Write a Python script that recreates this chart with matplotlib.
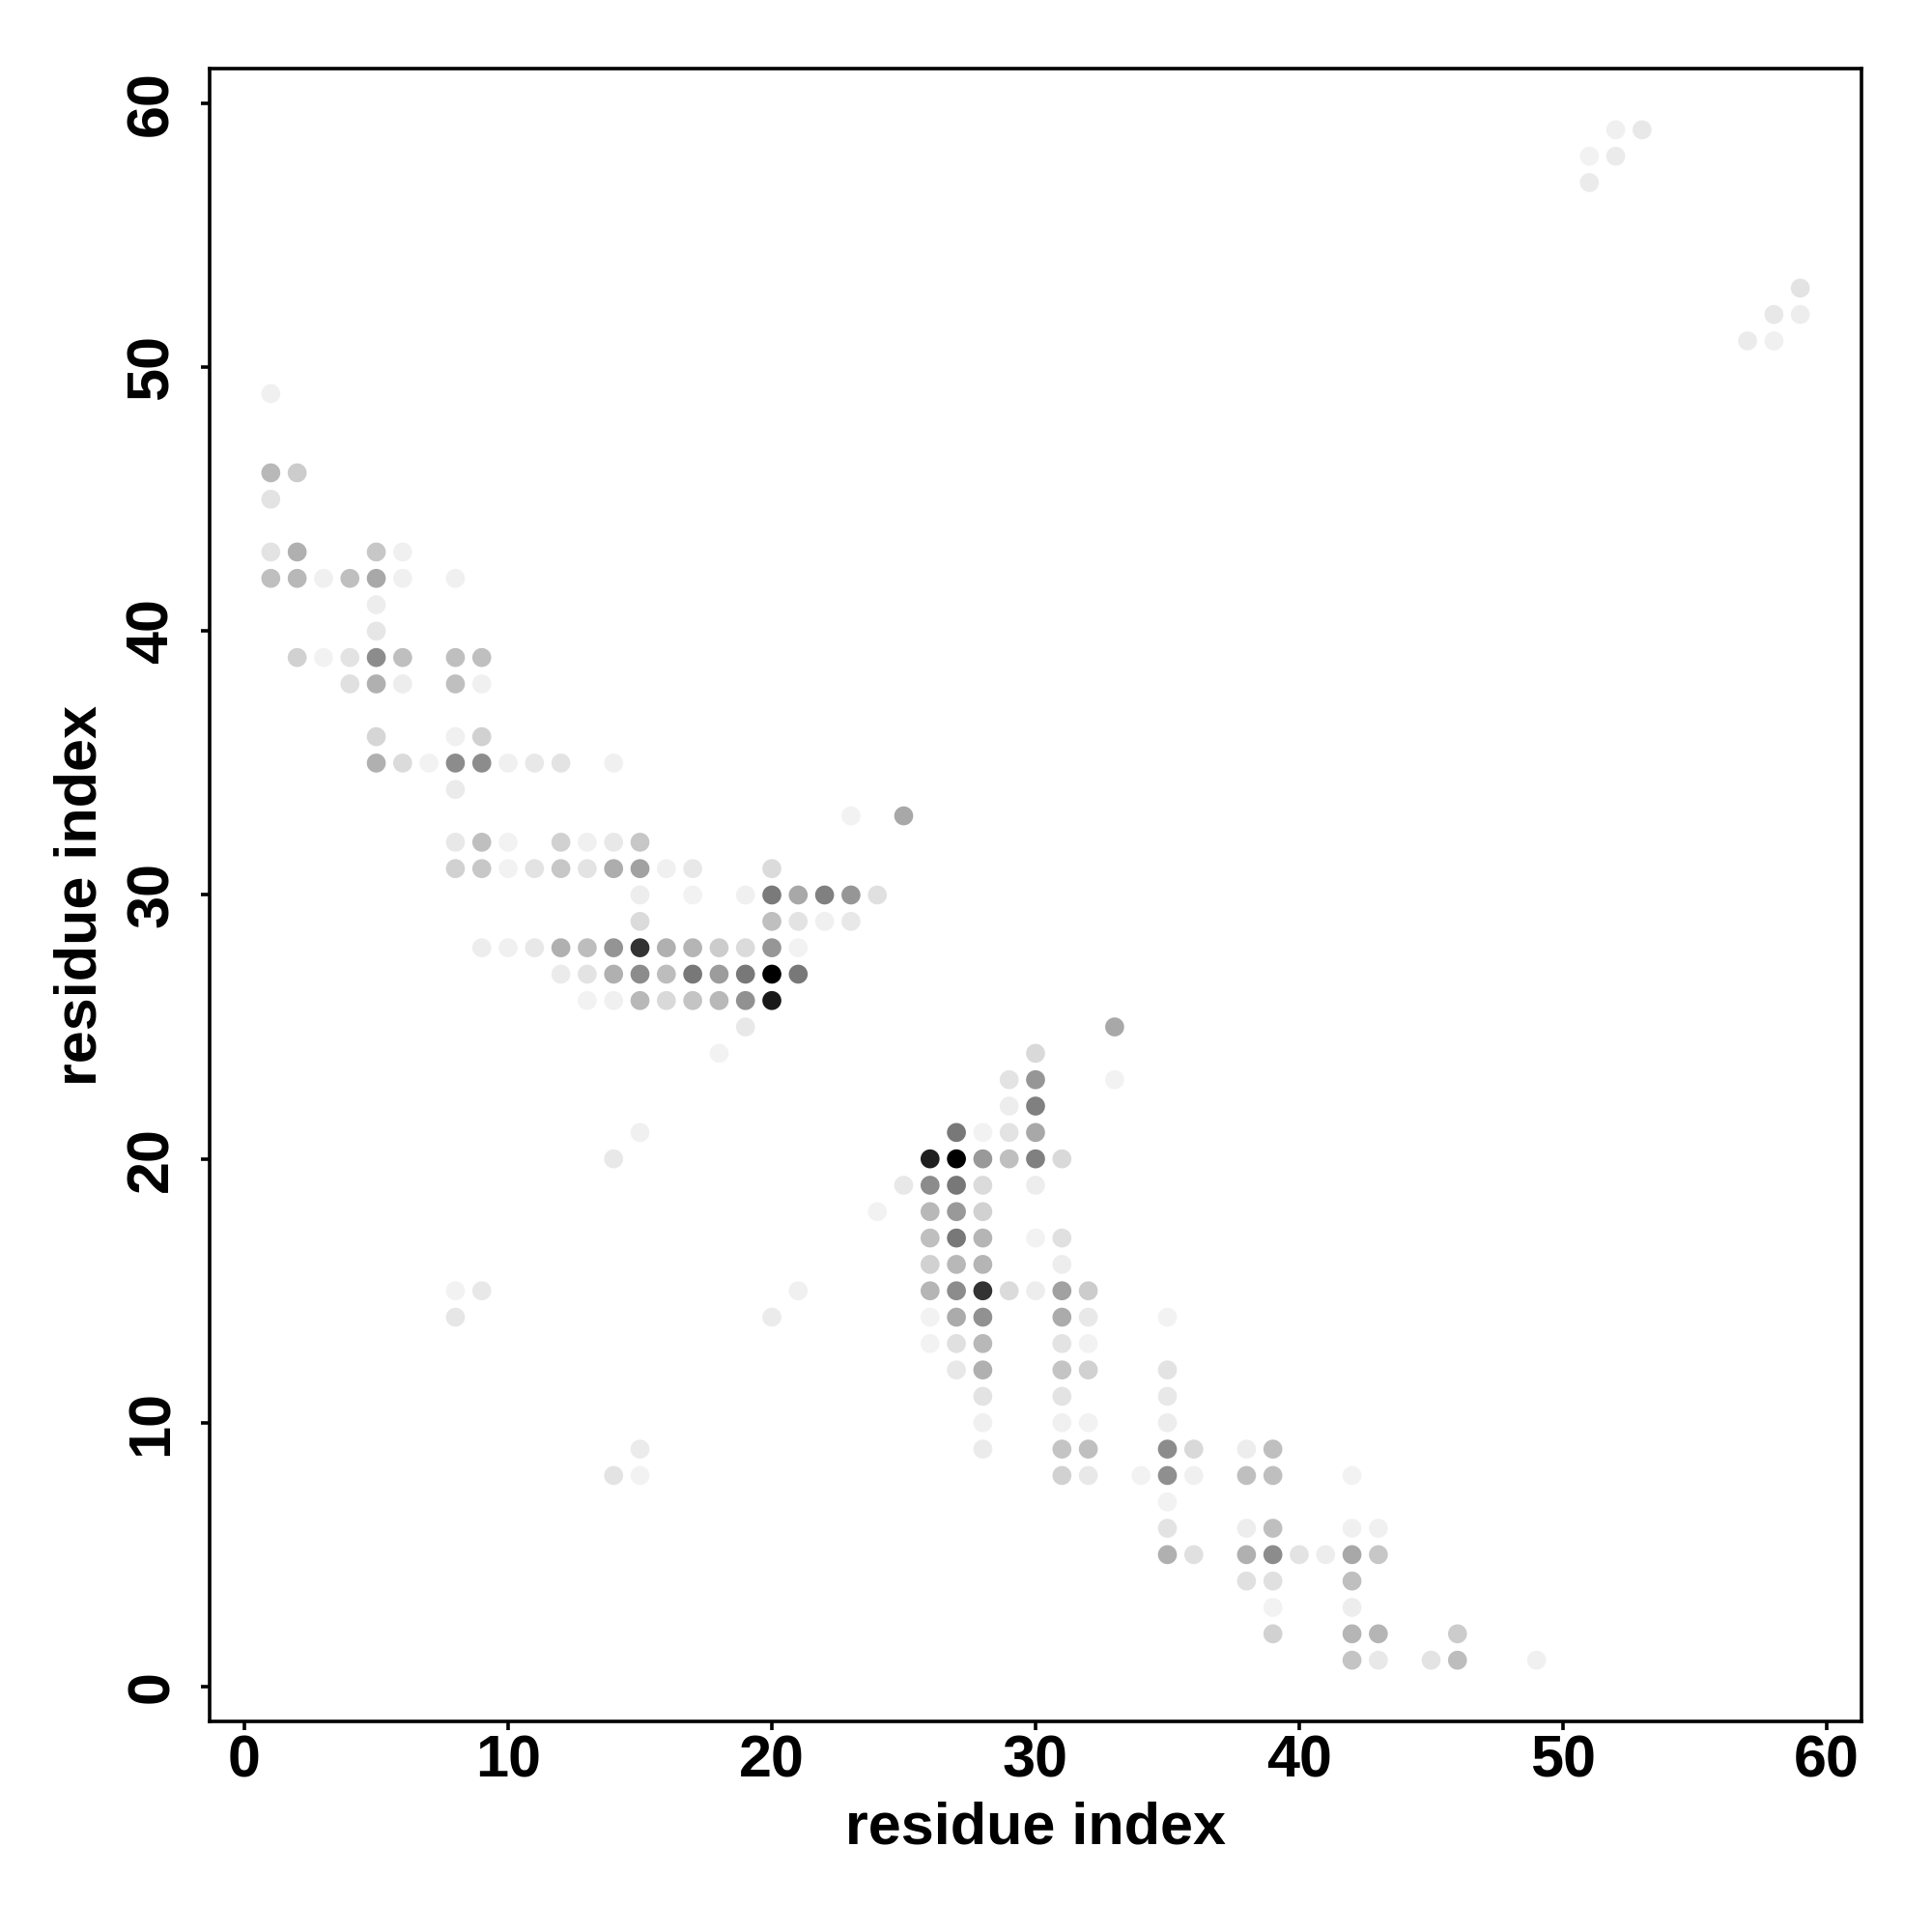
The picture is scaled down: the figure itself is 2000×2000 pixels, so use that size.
import matplotlib
matplotlib.use("Agg")
import matplotlib.pyplot as plt
import numpy as np

# contact map data: (residue i, residue j, contact frequency)
res_x = [52, 53, 51, 52, 51, 59, 58, 59, 57, 58,
         1, 1, 2, 1,
         1, 2, 5, 6,
         1, 2, 3, 4, 5, 6, 8,
         5, 5,
         2, 3, 4, 5, 6, 8, 9,
         4, 5, 6, 8, 9,
         5, 8, 9,
         5, 6, 7, 8, 9, 10, 11, 12, 14,
         8,
         23, 25,
         8, 9, 10, 12, 13, 14, 15,
         8, 9, 10, 11, 12, 13, 14, 15, 16, 17, 20,
         15, 17, 19, 20, 21, 22, 23, 24,
         15, 20, 21, 22, 23,
         9, 10, 11, 12, 13, 14, 15, 16, 17, 18, 19, 20, 21,
         12, 13, 14, 15, 16, 17, 18, 19, 20, 21,
         13, 14, 15, 16, 17, 18, 19, 20,
         19, 33,
         18, 30,
         29, 30, 33,
         29, 30,
         15, 27, 28, 29, 30,
         14, 26, 27, 28, 29, 30, 31,
         25, 26, 27, 28, 30,
         24, 26, 27, 28,
         26, 27, 28, 30, 31,
         26, 27, 28, 31,
         8, 9, 21, 26, 27, 28, 29, 30, 31, 32,
         8, 20, 26, 27, 28, 31, 32, 35,
         26, 27, 28, 31, 32,
         27, 28, 31, 32, 35,
         28, 31, 35,
         28, 31, 32, 35,
         15, 28, 31, 32, 35, 36, 38, 39,
         14, 15, 31, 32, 34, 35, 36, 38, 39, 42,
         35,
         35, 38, 39, 42, 43,
         35, 36, 38, 39, 40, 41, 42, 43,
         38, 39, 42,
         39, 42,
         39, 42, 43, 46,
         42, 43, 45, 46, 49]

res_y = [59, 59, 58, 58, 57, 53, 52, 52, 51, 51,
         49, 46, 46, 45,
         43, 43, 43, 43,
         42, 42, 42, 42, 42, 42, 42,
         41, 40,
         39, 39, 39, 39, 39, 39, 39,
         38, 38, 38, 38, 38,
         36, 36, 36,
         35, 35, 35, 35, 35, 35, 35, 35, 35,
         34,
         33, 33,
         32, 32, 32, 32, 32, 32, 32,
         31, 31, 31, 31, 31, 31, 31, 31, 31, 31, 31,
         30, 30, 30, 30, 30, 30, 30, 30,
         29, 29, 29, 29, 29,
         28, 28, 28, 28, 28, 28, 28, 28, 28, 28, 28, 28, 28,
         27, 27, 27, 27, 27, 27, 27, 27, 27, 27,
         26, 26, 26, 26, 26, 26, 26, 26,
         25, 25,
         24, 24,
         23, 23, 23,
         22, 22,
         21, 21, 21, 21, 21,
         20, 20, 20, 20, 20, 20, 20,
         19, 19, 19, 19, 19,
         18, 18, 18, 18,
         17, 17, 17, 17, 17,
         16, 16, 16, 16,
         15, 15, 15, 15, 15, 15, 15, 15, 15, 15,
         14, 14, 14, 14, 14, 14, 14, 14,
         13, 13, 13, 13, 13,
         12, 12, 12, 12, 12,
         11, 11, 11,
         10, 10, 10, 10,
         9, 9, 9, 9, 9, 9, 9, 9,
         8, 8, 8, 8, 8, 8, 8, 8, 8, 8,
         7,
         6, 6, 6, 6, 6,
         5, 5, 5, 5, 5, 5, 5, 5,
         4, 4, 4,
         3, 3,
         2, 2, 2, 2,
         1, 1, 1, 1, 1]

contact_freq = [0.06, 0.09, 0.05, 0.08, 0.08, 0.11, 0.09, 0.07, 0.08, 0.06,
                0.06, 0.28, 0.20, 0.11,
                0.11, 0.31, 0.22, 0.06,
                0.25, 0.28, 0.06, 0.25, 0.34, 0.06, 0.06,
                0.07, 0.10,
                0.18, 0.05, 0.11, 0.45, 0.25, 0.25, 0.25,
                0.12, 0.31, 0.07, 0.25, 0.06,
                0.16, 0.06, 0.18,
                0.31, 0.14, 0.05, 0.45, 0.45, 0.06, 0.09, 0.11, 0.06,
                0.08,
                0.05, 0.34,
                0.09, 0.25, 0.05, 0.18, 0.06, 0.09, 0.22,
                0.18, 0.22, 0.05, 0.11, 0.22, 0.11, 0.32, 0.37, 0.06, 0.09, 0.14,
                0.07, 0.05, 0.06, 0.52, 0.34, 0.50, 0.41, 0.12,
                0.14, 0.25, 0.11, 0.06, 0.09,
                0.07, 0.06, 0.09, 0.31, 0.26, 0.42, 0.80, 0.31, 0.29, 0.20, 0.14, 0.41, 0.05,
                0.08, 0.11, 0.31, 0.45, 0.26, 0.53, 0.39, 0.53, 1.00, 0.53,
                0.05, 0.06, 0.28, 0.15, 0.23, 0.28, 0.43, 0.90,
                0.09, 0.34,
                0.05, 0.15,
                0.11, 0.41, 0.05,
                0.07, 0.50,
                0.06, 0.53, 0.05, 0.11, 0.34,
                0.09, 0.88, 1.00, 0.40, 0.25, 0.50, 0.15,
                0.09, 0.45, 0.53, 0.14, 0.07,
                0.05, 0.28, 0.40, 0.18,
                0.25, 0.53, 0.29, 0.05, 0.12,
                0.18, 0.28, 0.29, 0.07,
                0.05, 0.09, 0.06, 0.29, 0.45, 0.80, 0.14, 0.07, 0.37, 0.20,
                0.10, 0.08, 0.05, 0.33, 0.43, 0.33, 0.09, 0.05,
                0.05, 0.12, 0.28, 0.11, 0.05,
                0.09, 0.31, 0.23, 0.18, 0.11,
                0.11, 0.11, 0.09,
                0.06, 0.06, 0.05, 0.07,
                0.08, 0.08, 0.23, 0.25, 0.45, 0.15, 0.07, 0.25,
                0.11, 0.05, 0.18, 0.09, 0.05, 0.44, 0.06, 0.25, 0.25, 0.05,
                0.05,
                0.11, 0.07, 0.25, 0.06, 0.06,
                0.31, 0.12, 0.31, 0.45, 0.11, 0.07, 0.34, 0.22,
                0.12, 0.12, 0.25,
                0.05, 0.07,
                0.18, 0.29, 0.29, 0.20,
                0.23, 0.09, 0.11, 0.26, 0.06]

tick_values = [0, 10, 20, 30, 40, 50, 60]
axis_label = "residue index"

plt.rcParams['font.family'] = ['Liberation Sans', 'DejaVu Sans']
plt.rcParams['font.weight'] = 'bold'

fig = plt.figure(figsize=(10, 10), dpi=200)
ax = fig.add_axes([0.1085, 0.109, 0.855, 0.8555])

x = np.array(res_x)
y = np.array(res_y)
f = np.array(contact_freq)
colors = [str(1.0 - v) for v in f]
ax.scatter(x, y, s=50, c=colors, marker='o', linewidths=0)

lo = min(x.min(), y.min())
hi = max(x.max(), y.max())
ext = 0.04 * (hi - lo)
ax.set_xlim(lo - ext, hi + ext)
ax.set_ylim(lo - ext, hi + ext)

fs = 22
ax.set_xticks(tick_values)
ax.set_yticks(tick_values)
ax.set_xticklabels([str(t) for t in tick_values], fontsize=fs, fontweight='bold')
ax.set_yticklabels([str(t) for t in tick_values], fontsize=fs, fontweight='bold',
                   rotation=90, va='center')
ax.tick_params(axis='both', direction='out', length=3.4, width=1.3, color='black')
ax.tick_params(axis='x', pad=1.6)
ax.tick_params(axis='y', pad=7.5)

for sp in ax.spines.values():
    sp.set_linewidth(1.3)
    sp.set_color('black')

ax.set_xlabel(axis_label, fontsize=fs, fontweight='bold')
ax.set_ylabel(axis_label, fontsize=fs, fontweight='bold')
ax.xaxis.set_label_coords(0.5, -0.048)
ax.yaxis.set_label_coords(-0.061, 0.5)

fig.savefig("out.png", dpi=200, facecolor='white')
